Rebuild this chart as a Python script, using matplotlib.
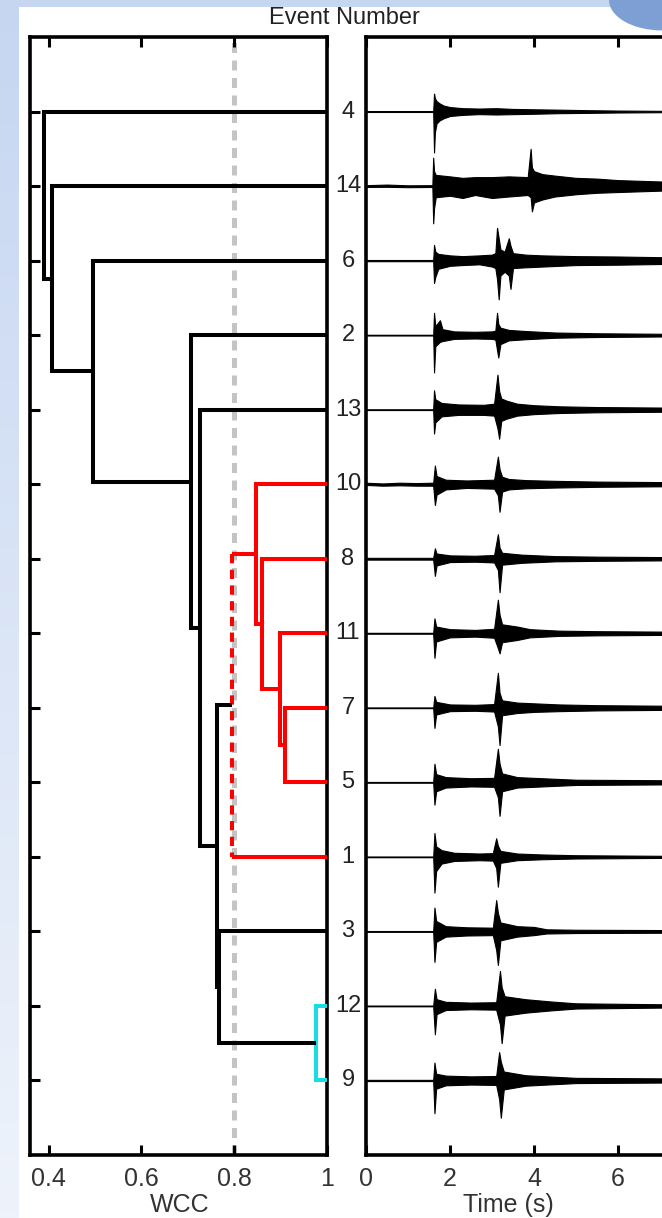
"""
plot.py - 事件聚类树状图 + 波形对比
"""
import numpy as np
import matplotlib
matplotlib.use("Agg")
import matplotlib.pyplot as plt
from matplotlib.patches import Rectangle, Ellipse

plt.rcParams["font.family"] = ["Liberation Sans", "DejaVu Sans"]

# ================== 数据 ==================
# 叶节点顺序 (从上到下)
leaf_labels = ["4", "14", "6", "2", "13", "10", "8", "11", "7", "5", "1", "3", "12", "9"]

# 合并: (子节点a, 子节点b, WCC高度)  子节点为叶号字符串或合并序号 "m#"
merges = [
    ("7", "5", 0.909),      # m0
    ("11", "m0", 0.898),    # m1
    ("8", "m1", 0.859),     # m2
    ("10", "m2", 0.848),    # m3
    ("m3", "1", 0.795),     # m4
    ("12", "9", 0.977),     # m5
    ("3", "m5", 0.768),     # m6
    ("m4", "m6", 0.762),    # m7
    ("13", "m7", 0.726),    # m8
    ("2", "m8", 0.708),     # m9
    ("6", "m9", 0.496),     # m10
    ("14", "m10", 0.408),   # m11
    ("4", "m11", 0.390),    # m12
]
wcc_threshold = 0.8

# 波形包络 (时间 s, 上振幅, 下振幅)，按事件号
envelopes = {
    "4": [(0, .006, .006), (1.60, .006, .006), (1.62, .24, .55), (1.64, .18, .28), (1.68, .14, .16),
          (1.75, .11, .12), (1.85, .08, .09), (2.0, .06, .06), (2.3, .045, .045), (2.7, .04, .035),
          (3.1, .045, .04), (3.5, .035, .035), (4.0, .03, .03), (4.6, .025, .022), (5.3, .018, .018),
          (6.0, .013, .013), (7.1, .009, .009)],
    "14": [(0, .012, .012), (0.5, .02, .01), (1.0, .01, .015), (1.58, .012, .012), (1.60, .38, .50),
           (1.62, .20, .30), (1.66, .15, .15), (2.0, .13, .13), (2.3, .11, .16), (2.6, .12, .12),
           (3.0, .12, .16), (3.4, .13, .14), (3.85, .12, .12), (3.92, .50, .15), (3.95, .25, .34),
           (4.0, .20, .22), (4.2, .16, .18), (4.5, .14, .14), (5.0, .11, .11), (5.5, .10, .09),
           (6.0, .08, .08), (7.1, .06, .06)],
    "6": [(0, .008, .008), (1.60, .008, .008), (1.62, .21, .30), (1.65, .12, .22), (1.72, .09, .11),
          (2.0, .07, .07), (2.3, .06, .06), (2.7, .07, .05), (3.0, .08, .08), (3.08, .10, .10),
          (3.12, .44, .25), (3.16, .30, .52), (3.2, .15, .20), (3.3, .12, .15), (3.4, .30, .20),
          (3.44, .20, .38), (3.5, .10, .10), (3.8, .08, .09), (4.2, .07, .08), (5.0, .06, .06),
          (6.0, .055, .055), (7.1, .045, .045)],
    "2": [(0, .005, .005), (1.60, .005, .005), (1.62, .30, .50), (1.65, .12, .15), (1.76, .20, .09),
          (1.82, .08, .08), (2.1, .05, .05), (2.6, .045, .045), (3.0, .05, .05), (3.08, .06, .06),
          (3.12, .30, .20), (3.15, .15, .30), (3.2, .10, .12), (3.4, .07, .07), (3.8, .055, .055),
          (4.5, .035, .035), (5.5, .025, .025), (7.1, .018, .018)],
    "13": [(0, .005, .005), (1.60, .005, .005), (1.62, .26, .32), (1.65, .14, .17), (1.8, .09, .09),
           (2.2, .07, .07), (2.8, .065, .07), (3.05, .08, .08), (3.13, .47, .25), (3.17, .25, .39),
           (3.22, .15, .15), (3.35, .12, .12), (3.6, .08, .08), (4.0, .06, .06), (4.6, .045, .045),
           (5.5, .035, .035), (7.1, .028, .028)],
    "10": [(0, .02, .01), (0.4, .01, .02), (0.8, .02, .015), (1.2, .015, .02), (1.6, .02, .02),
           (1.64, .25, .28), (1.68, .11, .14), (1.9, .06, .07), (2.4, .05, .05), (3.05, .06, .06),
           (3.14, .37, .15), (3.18, .20, .37), (3.24, .10, .10), (3.4, .07, .07), (3.8, .055, .055),
           (4.5, .045, .045), (5.5, .035, .035), (7.1, .028, .028)],
    "8": [(0, .012, .012), (1.6, .012, .012), (1.64, .14, .23), (1.68, .07, .09), (2.0, .045, .045),
          (2.6, .04, .04), (3.05, .05, .05), (3.14, .33, .15), (3.18, .15, .45), (3.24, .08, .08),
          (3.7, .055, .055), (4.5, .035, .035), (5.5, .028, .028), (7.1, .022, .022)],
    "11": [(0, .006, .006), (1.6, .006, .006), (1.63, .20, .33), (1.67, .09, .11), (2.0, .055, .055),
           (2.6, .045, .045), (3.05, .06, .06), (3.14, .45, .20), (3.18, .25, .27), (3.24, .12, .12),
           (3.6, .09, .09), (3.9, .055, .055), (4.6, .035, .035), (5.5, .028, .028), (7.1, .022, .022)],
    "7": [(0, .005, .005), (1.6, .005, .005), (1.63, .16, .27), (1.67, .08, .09), (2.0, .045, .045),
          (2.6, .04, .04), (3.05, .05, .05), (3.14, .47, .25), (3.18, .20, .50), (3.24, .10, .10),
          (3.6, .07, .07), (4.0, .06, .055), (4.6, .045, .045), (5.5, .035, .035), (7.1, .028, .028)],
    "5": [(0, .005, .005), (1.6, .005, .005), (1.63, .25, .30), (1.67, .11, .12), (1.9, .07, .07),
          (2.5, .055, .055), (3.05, .06, .06), (3.14, .45, .20), (3.18, .25, .45), (3.24, .12, .12),
          (3.6, .07, .07), (4.2, .055, .055), (5.0, .035, .035), (7.1, .028, .028)],
    "1": [(0, .005, .005), (1.6, .005, .005), (1.63, .32, .48), (1.67, .14, .19), (1.8, .09, .09),
          (2.1, .055, .055), (2.7, .045, .045), (3.02, .05, .05), (3.1, .25, .15), (3.14, .15, .40),
          (3.2, .08, .08), (3.6, .045, .045), (4.2, .032, .032), (5.0, .022, .022), (7.1, .014, .014)],
    "3": [(0, .005, .005), (1.6, .005, .005), (1.63, .32, .41), (1.67, .14, .14), (1.9, .07, .07),
          (2.4, .055, .055), (3.02, .05, .05), (3.1, .42, .25), (3.14, .25, .45), (3.2, .12, .12),
          (3.6, .07, .07), (4.0, .06, .05), (4.3, .028, .028), (5.0, .022, .022), (7.1, .018, .018)],
    "12": [(0, .005, .005), (1.6, .005, .005), (1.64, .23, .38), (1.68, .09, .11), (1.9, .055, .055),
           (2.5, .045, .045), (3.1, .05, .05), (3.19, .47, .25), (3.23, .25, .50), (3.3, .13, .13),
           (3.8, .09, .09), (4.4, .06, .06), (5.0, .035, .035), (7.1, .022, .022)],
    "9": [(0, .008, .008), (1.6, .008, .008), (1.63, .24, .44), (1.67, .09, .11), (1.9, .065, .065),
          (2.5, .055, .055), (3.1, .06, .06), (3.17, .38, .25), (3.21, .25, .50), (3.28, .12, .12),
          (3.8, .07, .07), (4.3, .055, .055), (5.0, .035, .035), (7.1, .028, .028)],
}

wcc_ticks = [0.4, 0.6, 0.8, 1.0]
wcc_ticklabels = ["0.4", "0.6", "0.8", "1"]
time_ticks = [0, 2, 4, 6]
time_ticklabels = ["0", "2", "4", "6"]

# 样式
merge_colors = {0: "red", 1: "red", 2: "red", 3: "red", 4: "red", 5: "#19dde3"}
dashed_merges = {4}
W, H = 662, 1218

# ================== 画布与背景 ==================
fig = plt.figure(figsize=(W / 100, H / 100), dpi=100)
bg = fig.add_axes([0, 0, 1, 1], zorder=-10)
bg.set_axis_off()
grad = np.linspace(0, 1, 256).reshape(-1, 1)
bg.imshow(grad, aspect="auto", extent=[0, 1, 0, 1], origin="lower",
          cmap=matplotlib.colors.LinearSegmentedColormap.from_list("bgc", ["#eef3fb", "#c6d6f1"]))
bg.add_patch(Rectangle((19 / W, 0), 1, 1 - 7 / H, color="white", lw=0))
bg.add_patch(Ellipse((1.0, 1.0), 0.16, 0.05, color="#7d9fd3", lw=0))
bg.set_xlim(0, 1)
bg.set_ylim(0, 1)

ax_l = fig.add_axes([30 / W, 1 - 1155 / H, 297 / W, 1118 / H])
ax_r = fig.add_axes([366 / W, 1 - 1155 / H, 296 / W, 1118 / H])

# ================== 树状图 ==================
leaf_y = {lab: i + 1 for i, lab in enumerate(leaf_labels)}
node_pos = {lab: (1.0, leaf_y[lab]) for lab in leaf_labels}

ax_l.axvline(wcc_threshold, color="#c4c4c4", lw=3.6, ls=(0, (2.0, 1.5)), zorder=1)

for k, (a, b, h) in enumerate(merges):
    xa, ya = node_pos[a]
    xb, yb = node_pos[b]
    c = merge_colors.get(k, "black")
    ax_l.plot([xa, h], [ya, ya], color=c, lw=2.9, solid_capstyle="butt", zorder=3)
    ax_l.plot([xb, h], [yb, yb], color=c, lw=2.9, solid_capstyle="butt", zorder=3)
    vls = (0, (2.3, 1.6)) if k in dashed_merges else "-"
    ax_l.plot([h, h], [ya, yb], color=c, lw=2.9, ls=vls, solid_capstyle="projecting", zorder=3)
    node_pos["m%d" % k] = (h, (ya + yb) / 2)

ax_l.set_xlim(0.36, 1.0)
ax_l.set_ylim(15, 0)
ax_l.set_xticks(wcc_ticks)
ax_l.set_xticklabels(wcc_ticklabels)
ax_l.set_yticks(range(1, len(leaf_labels) + 1))
ax_l.set_yticklabels([])
ax_l.tick_params(axis="x", which="both", direction="in", top=True, length=7, width=2.2,
                 pad=9, labelsize=18, labelcolor="#333333")
ax_l.tick_params(axis="y", direction="in", left=True, right=False, length=7, width=2.2)

for lab in leaf_labels:
    ax_l.text(1.0707, leaf_y[lab], lab, transform=ax_l.get_yaxis_transform(),
              ha="center", va="center", fontsize=17, color="#222222", clip_on=False)

# ================== 波形 ==================
for lab in leaf_labels:
    env = np.array(envelopes[lab])
    y0 = leaf_y[lab]
    ax_r.fill_between(env[:, 0], y0 - env[:, 1], y0 + env[:, 2], color="black", lw=0.8)

ax_r.set_xlim(0, 296 / 42)
ax_r.set_ylim(15, 0)
ax_r.set_xticks(time_ticks)
ax_r.set_xticklabels(time_ticklabels)
ax_r.set_yticks([])
ax_r.tick_params(axis="x", direction="in", top=True, length=7, width=2.2,
                 pad=9, labelsize=18, labelcolor="#333333")
ax_r.spines["right"].set_visible(False)

for ax in (ax_l, ax_r):
    for s in ax.spines.values():
        s.set_linewidth(2.6)
    ax.set_facecolor("none")

# ================== 标题与轴标签 ==================
fig.text(344 / W, 1 - 18 / H, "Event Number", ha="center", va="center", fontsize=17, color="#222222")
fig.text(180 / W, 1 - 1205 / H, "WCC", ha="center", va="center", fontsize=18, color="#333333")
fig.text(508 / W, 1 - 1205 / H, "Time (s)", ha="center", va="center", fontsize=18, color="#333333")

fig.savefig("out.png", dpi=100)
